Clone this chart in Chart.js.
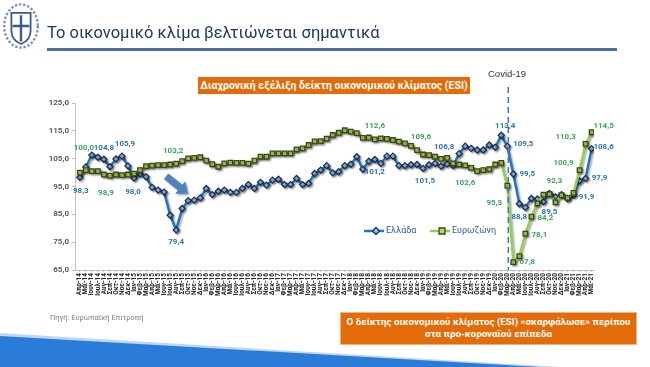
<!DOCTYPE html>
<html>
<head>
<meta charset="utf-8">
<script src="https://cdn.jsdelivr.net/npm/chart.js@4/dist/chart.umd.min.js"></script>
<style>
  html, body { margin: 0; padding: 0; }
  body { width: 650px; height: 367px; position: relative; overflow: hidden; background: #fff; font-family: Roboto, "Liberation Sans", sans-serif; }
  #chart { position: absolute; left: 0; top: 0; width: 650px; height: 367px; }
  .abs { position: absolute; z-index: 2; }
  #title { left: 47px; top: 23px; font-size: 16.5px; color: #1F3864; white-space: nowrap; }
  #rule { left: 47px; top: 48px; width: 570px; height: 2.5px; background: #4F6FA3; }
  #boxTop { left: 198px; top: 77px; width: 272px; height: 17px; background: #E36C09; color: #fff; font-weight: bold; font-size: 10.5px; line-height: 17px; text-align: center; white-space: nowrap; }
  #covid { left: 488px; top: 68px; font-size: 9.5px; color: #333; font-family: "Liberation Sans", Arial, sans-serif; }
  #source { left: 50px; top: 313px; font-size: 7.5px; color: #7f7f7f; }
  #boxBottom { left: 340px; top: 312px; width: 297px; height: 33px; background: #E36C09; border: 1px solid #F4B183; color: #fff; font-weight: bold; font-size: 9.8px; line-height: 11.5px; text-align: center; padding-top: 3px; box-sizing: border-box; white-space: nowrap; }
  #logo { left: 1px; top: 2px; }
  #wedge { left: 0; top: 0; z-index: 1; }
</style>
</head>
<body>
<svg id="wedge" class="abs" width="650" height="367">
  <polygon points="0,333 560,367 0,367" fill="#BFD7F2"/>
  <polygon points="0,336 540,367 0,367" fill="#2B7CD9"/>
</svg>
<svg id="logo" class="abs" width="40" height="48" viewBox="0 0 32 40">
  <ellipse cx="16" cy="20" rx="14" ry="18" fill="none" stroke="#7f93b3" stroke-width="2" stroke-dasharray="2 1.5"/>
  <path d="M8 9 H24 V24 Q24 32 16 35 Q8 32 8 24 Z" fill="#fff" stroke="#3d5a8a" stroke-width="1.5"/>
  <path d="M16 11 V33 M9 20 H23" stroke="#3d5a8a" stroke-width="2"/>
</svg>
<div id="title" class="abs">Το οικονομικό κλίμα βελτιώνεται σημαντικά</div>
<div id="rule" class="abs"></div>
<div id="boxTop" class="abs">Διαχρονική εξέλιξη δείκτη οικονομικού κλίματος (ESI)</div>
<div id="covid" class="abs">Covid-19</div>
<canvas id="chart" width="650" height="367"></canvas>
<div id="source" class="abs">Πηγή: Ευρωπαϊκή Επιτροπή</div>
<div id="boxBottom" class="abs">Ο δείκτης οικονομικού κλίματος (ESI) «σκαρφάλωσε» περίπου<br>στα προ-κοροναϊού επίπεδα</div>

<script>
// Month labels, Apr-14 .. May-21
const monthLabels = [
  'Απρ-14','Μαϊ-14','Ιουν-14','Ιουλ-14','Αυγ-14','Σεπ-14','Οκτ-14','Νοε-14','Δεκ-14',
  'Ιαν-15','Φεβ-15','Μαρ-15','Απρ-15','Μαϊ-15','Ιουν-15','Ιουλ-15','Αυγ-15','Σεπ-15','Οκτ-15','Νοε-15','Δεκ-15',
  'Ιαν-16','Φεβ-16','Μαρ-16','Απρ-16','Μαϊ-16','Ιουν-16','Ιουλ-16','Αυγ-16','Σεπ-16','Οκτ-16','Νοε-16','Δεκ-16',
  'Ιαν-17','Φεβ-17','Μαρ-17','Απρ-17','Μαϊ-17','Ιουν-17','Ιουλ-17','Αυγ-17','Σεπ-17','Οκτ-17','Νοε-17','Δεκ-17',
  'Ιαν-18','Φεβ-18','Μαρ-18','Απρ-18','Μαϊ-18','Ιουν-18','Ιουλ-18','Αυγ-18','Σεπ-18','Οκτ-18','Νοε-18','Δεκ-18',
  'Ιαν-19','Φεβ-19','Μαρ-19','Απρ-19','Μαϊ-19','Ιουν-19','Ιουλ-19','Αυγ-19','Σεπ-19','Οκτ-19','Νοε-19','Δεκ-19',
  'Ιαν-20','Φεβ-20','Μαρ-20','Απρ-20','Μαϊ-20','Ιουν-20','Ιουλ-20','Αυγ-20','Σεπ-20','Οκτ-20','Νοε-20','Δεκ-20',
  'Ιαν-21','Φεβ-21','Μαρ-21','Απρ-21','Μαϊ-21'
];

// ESI Greece
const greece = [
  98.3, 102.0, 106.3, 105.5, 104.8, 102.1, 104.9, 105.9, 102.4,
  98.0, 99.5, 98.5, 94.7, 93.7, 93.0, 84.7, 79.4, 87.1, 89.9, 90.1, 90.9,
  94.3, 92.1, 93.3, 93.7, 92.9, 92.9, 94.3, 95.7, 94.3, 96.5, 95.5, 97.3,
  97.6, 95.7, 95.7, 97.9, 95.7, 96.1, 99.7, 100.9, 102.5, 99.9, 100.3, 102.5,
  103.0, 105.7, 101.2, 104.1, 104.7, 103.3, 105.9, 105.9, 102.5, 102.5, 102.8, 102.9,
  101.5, 102.8, 103.3, 102.3, 103.1, 102.5, 106.8, 109.5, 108.7, 108.1, 108.1, 109.9,
  109.1, 113.4, 109.5, 99.5, 88.8, 87.5, 90.7, 90.5, 89.5, 92.5, 91.3, 92.1,
  90.7, 91.9, 97.0, 97.9, 108.6
];

// ESI Eurozone
const eurozone = [
  100.0, 100.9, 100.5, 100.5, 99.3, 98.9, 99.3, 99.1, 99.3,
  99.6, 100.9, 102.3, 102.5, 102.7, 102.7, 102.9, 103.2, 104.1, 105.1, 105.3, 105.5,
  104.3, 103.0, 102.1, 103.3, 103.6, 103.5, 103.5, 103.2, 104.3, 105.7, 105.7, 106.9,
  106.9, 106.9, 106.9, 108.3, 108.7, 109.9, 111.2, 111.3, 112.2, 113.5, 114.3, 115.2,
  114.7, 114.2, 112.5, 112.6, 111.9, 112.3, 112.1, 111.7, 111.1, 110.5, 109.6, 108.1,
  106.5, 106.3, 105.7, 104.9, 105.3, 103.3, 102.9, 102.6, 101.7, 100.5, 100.9, 101.2,
  102.9, 103.5, 95.3, 67.8, 70.0, 78.1, 84.2, 88.9, 92.1, 92.3, 89.3, 91.9,
  90.9, 92.7, 100.9, 110.3, 114.5
];

const yTicks = [65, 75, 85, 95, 105, 115, 125];
const covidIndex = 71;

// which points carry a value label, and where the label sits relative to the point
const greeceLabelIdx = [0, 4, 7, 9, 16, 47, 57, 63, 70, 71, 72, 73, 77, 82, 84, 85];
const greeceLabelOff = [[1,14],[0,-11],[3,-12],[-1,14],[0,12],[12,3],[2,13],[-15,-7],[4,-9],[16,-2],[14,0],[0,13],[6,10],[13,2],[14,0],[12,-2]];
const ezLabelIdx = [0, 5, 16, 48, 55, 64, 71, 72, 74, 75, 78, 83, 84, 85];
const ezLabelOff = [[4,-25],[-4,17],[-3,-13],[6,-12],[10,-9],[0,18],[-13,17],[14,0],[14,1],[14,1],[5,-13],[-16,-7],[-20,-7],[12,-6]];

const GR_LINE = '#2474BE';
const GR_MARK = '#1B2F55';
const GR_TEXT = '#2E75B6';
const EZ_LINE = '#92D050';
const EZ_MARK = '#3A4712';
const EZ_TEXT = '#3BA55C';

function fmt(v) {
    return v.toFixed(1).replace('.', ',');
}

const decorPlugin = {
    id: 'decor',
    beforeDatasetDraw(chart) {
        const ctx = chart.ctx;
        ctx.save();
        ctx.shadowColor = 'rgba(0,0,0,0.35)';
        ctx.shadowOffsetX = 1.5;
        ctx.shadowOffsetY = 1.5;
        ctx.shadowBlur = 2;
    },
    afterDatasetDraw(chart) {
        chart.ctx.restore();
    },
    afterDatasetsDraw(chart) {
        const ctx = chart.ctx;
        const xs = chart.scales.x;
        const area = chart.chartArea;

        // Covid line
        const cx = xs.getPixelForValue(covidIndex) + 1;
        ctx.save();
        ctx.strokeStyle = '#4472C4';
        ctx.lineWidth = 1.5;
        ctx.setLineDash([6, 4]);
        ctx.beginPath();
        ctx.moveTo(cx, 87);
        ctx.lineTo(cx, area.bottom);
        ctx.stroke();
        ctx.restore();

        // Arrow
        ctx.save();
        ctx.shadowColor = 'rgba(0,0,0,0.35)';
        ctx.shadowOffsetX = 1.5;
        ctx.shadowOffsetY = 1.5;
        ctx.shadowBlur = 2;
        ctx.fillStyle = '#4F81BD';
        ctx.translate(177, 185);
        ctx.rotate(Math.atan2(16, 20));
        ctx.beginPath();
        ctx.moveTo(-14, -3.5);
        ctx.lineTo(4, -3.5);
        ctx.lineTo(4, -8);
        ctx.lineTo(14, 0);
        ctx.lineTo(4, 8);
        ctx.lineTo(4, 3.5);
        ctx.lineTo(-14, 3.5);
        ctx.closePath();
        ctx.fill();
        ctx.restore();

        // Value labels
        ctx.save();
        ctx.font = 'bold 8px Roboto, "Liberation Sans", sans-serif';
        ctx.textAlign = 'center';
        ctx.textBaseline = 'middle';
        const drawLabels = (dsIndex, idxs, offs, color) => {
            const meta = chart.getDatasetMeta(dsIndex);
            const data = chart.data.datasets[dsIndex].data;
            ctx.fillStyle = color;
            idxs.forEach((i, k) => {
                const pt = meta.data[i];
                ctx.fillText(fmt(data[i].y), pt.x + offs[k][0], pt.y + offs[k][1]);
            });
        };
        drawLabels(0, greeceLabelIdx, greeceLabelOff, GR_TEXT);
        drawLabels(1, ezLabelIdx, ezLabelOff, EZ_TEXT);
        ctx.restore();

        // Legend
        ctx.save();
        ctx.font = '9px Roboto, "Liberation Sans", sans-serif';
        ctx.textBaseline = 'middle';
        const ly = 231;
        const legendItem = (x, lineColor, markColor, fillColor, style, label, textColor) => {
            ctx.strokeStyle = lineColor;
            ctx.lineWidth = 2.5;
            ctx.beginPath();
            ctx.moveTo(x - 12, ly);
            ctx.lineTo(x + 8, ly);
            ctx.stroke();
            ctx.fillStyle = fillColor;
            ctx.strokeStyle = markColor;
            ctx.lineWidth = 1.3;
            ctx.beginPath();
            if (style === 'diamond') {
                ctx.moveTo(x, ly - 3.5); ctx.lineTo(x + 3.5, ly); ctx.lineTo(x, ly + 3.5); ctx.lineTo(x - 3.5, ly); ctx.closePath();
            } else {
                ctx.rect(x - 3, ly - 3, 6, 6);
            }
            ctx.fill();
            ctx.stroke();
            ctx.fillStyle = textColor;
            ctx.fillText(label, x + 10, ly);
        };
        legendItem(376, GR_LINE, GR_MARK, '#9DC3E6', 'diamond', 'Ελλάδα', '#2E5C9A');
        legendItem(442, EZ_LINE, EZ_MARK, '#B5D86A', 'rect', 'Ευρωζώνη', '#2E5C9A');
        ctx.restore();
    }
};

new Chart(document.getElementById('chart'), {
    type: 'line',
    data: {
        datasets: [
            {
                label: 'Ελλάδα',
                data: greece.map((v, i) => ({ x: i, y: v })),
                borderColor: GR_LINE,
                borderWidth: 2.5,
                pointStyle: 'rectRot',
                pointRadius: 3,
                pointBorderWidth: 1.3,
                pointBorderColor: GR_MARK,
                pointBackgroundColor: '#9DC3E6',
                tension: 0,
                order: 2
            },
            {
                label: 'Ευρωζώνη',
                data: eurozone.map((v, i) => ({ x: i, y: v })),
                borderColor: EZ_LINE,
                borderWidth: 2.5,
                pointStyle: 'rect',
                pointRadius: 3.2,
                pointBorderWidth: 1.3,
                pointBorderColor: EZ_MARK,
                pointBackgroundColor: '#B5D86A',
                tension: 0,
                order: 1
            }
        ]
    },
    options: {
        responsive: false,
        animation: false,
        devicePixelRatio: 1,
        layout: { padding: { left: 35, right: 56, top: 103, bottom: 61 } },
        plugins: {
            legend: { display: false },
            tooltip: { enabled: false }
        },
        scales: {
            x: {
                type: 'linear',
                min: -0.8,
                max: 85.4,
                afterFit: s => { s.height = 36; },
                afterBuildTicks: s => { s.ticks = monthLabels.map((_, i) => ({ value: i })); },
                grid: { display: true, drawOnChartArea: false, tickLength: 2, color: '#bfbfbf' },
                border: { display: true, color: '#bfbfbf' },
                ticks: {
                    autoSkip: false,
                    maxRotation: 90,
                    minRotation: 90,
                    padding: 1,
                    color: '#262626',
                    font: { size: 6.5, weight: 'bold', family: 'Roboto, "Liberation Sans", sans-serif' },
                    callback: v => monthLabels[v]
                }
            },
            y: {
                min: 65,
                max: 125,
                afterFit: s => { s.width = 40; },
                afterBuildTicks: s => { s.ticks = yTicks.map(v => ({ value: v })); },
                grid: { display: true, drawOnChartArea: false, tickLength: 3, color: '#bfbfbf' },
                border: { display: true, color: '#bfbfbf' },
                ticks: {
                    padding: 3,
                    color: '#595959',
                    font: { size: 8, weight: 'bold', family: 'Roboto, "Liberation Sans", sans-serif' },
                    callback: v => fmt(v)
                }
            }
        }
    },
    plugins: [decorPlugin]
});
</script>
</body>
</html>
